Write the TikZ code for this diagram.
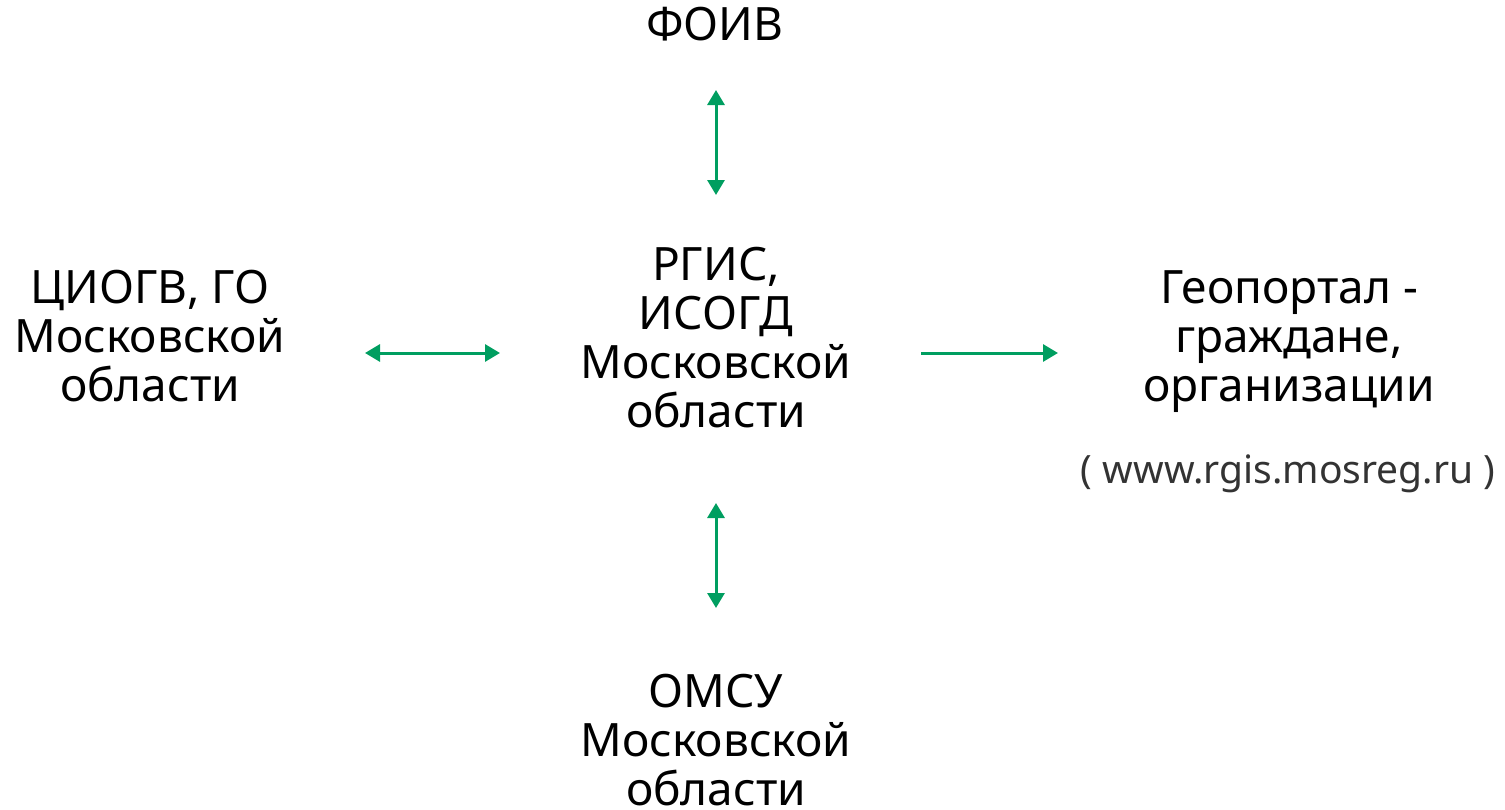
\documentclass[tikz,border=0pt]{standalone}
\usepackage{fontspec}
\setmainfont{Noto Sans}
\usetikzlibrary{arrows.meta}
\definecolor{arrgreen}{RGB}{0,158,96}
\definecolor{urlgray}{RGB}{51,51,51}
\tikzset{
  lbl/.style={align=center, inner sep=0pt, anchor=base, text=black,
    font=\fontsize{46}{49}\selectfont},
  urllbl/.style={inner sep=0pt, anchor=base, text=urlgray,
    font=\fontsize{39}{42}\selectfont},
  biarr/.style={draw=arrgreen, line width=3pt,
    {Triangle[length=15pt,width=17pt]}-{Triangle[length=15pt,width=17pt]}},
  onearr/.style={draw=arrgreen, line width=3pt,
    -{Triangle[length=15pt,width=17pt]}}
}
\begin{document}
\begin{tikzpicture}[x=1pt,y=-1pt]
\useasboundingbox (0,0) rectangle (1505,809);
% anchor=base of a multi-line node is the baseline of its last line
\node[lbl] (foiv) at (715,40) {ФОИВ};
\node[lbl] (rgis) at (716,427) {РГИС,\\ИСОГД\\Московской\\области};
\node[lbl] (ciogv) at (150,401) {ЦИОГВ, ГО\\Московской\\области};
\node[lbl] (geo) at (1289,401) {Геопортал -\\граждане,\\организации};
\node[urllbl] (url) at (1288,483) {( www.rgis.mosreg.ru )};
\node[lbl, text depth=0pt] (omsu) at (716,805) {ОМСУ\\Московской\\области};
\coordinate (topA) at (716,90);
\coordinate (topB) at (716,195);
\coordinate (botA) at (716,503);
\coordinate (botB) at (716,608);
\coordinate (leftA) at (365,353);
\coordinate (leftB) at (500,353);
\coordinate (rightA) at (921,353);
\coordinate (rightB) at (1058,353);
\draw[biarr] (topA) -- (topB);
\draw[biarr] (botA) -- (botB);
\draw[biarr] (leftA) -- (leftB);
\draw[onearr] (rightA) -- (rightB);
\end{tikzpicture}
\end{document}
